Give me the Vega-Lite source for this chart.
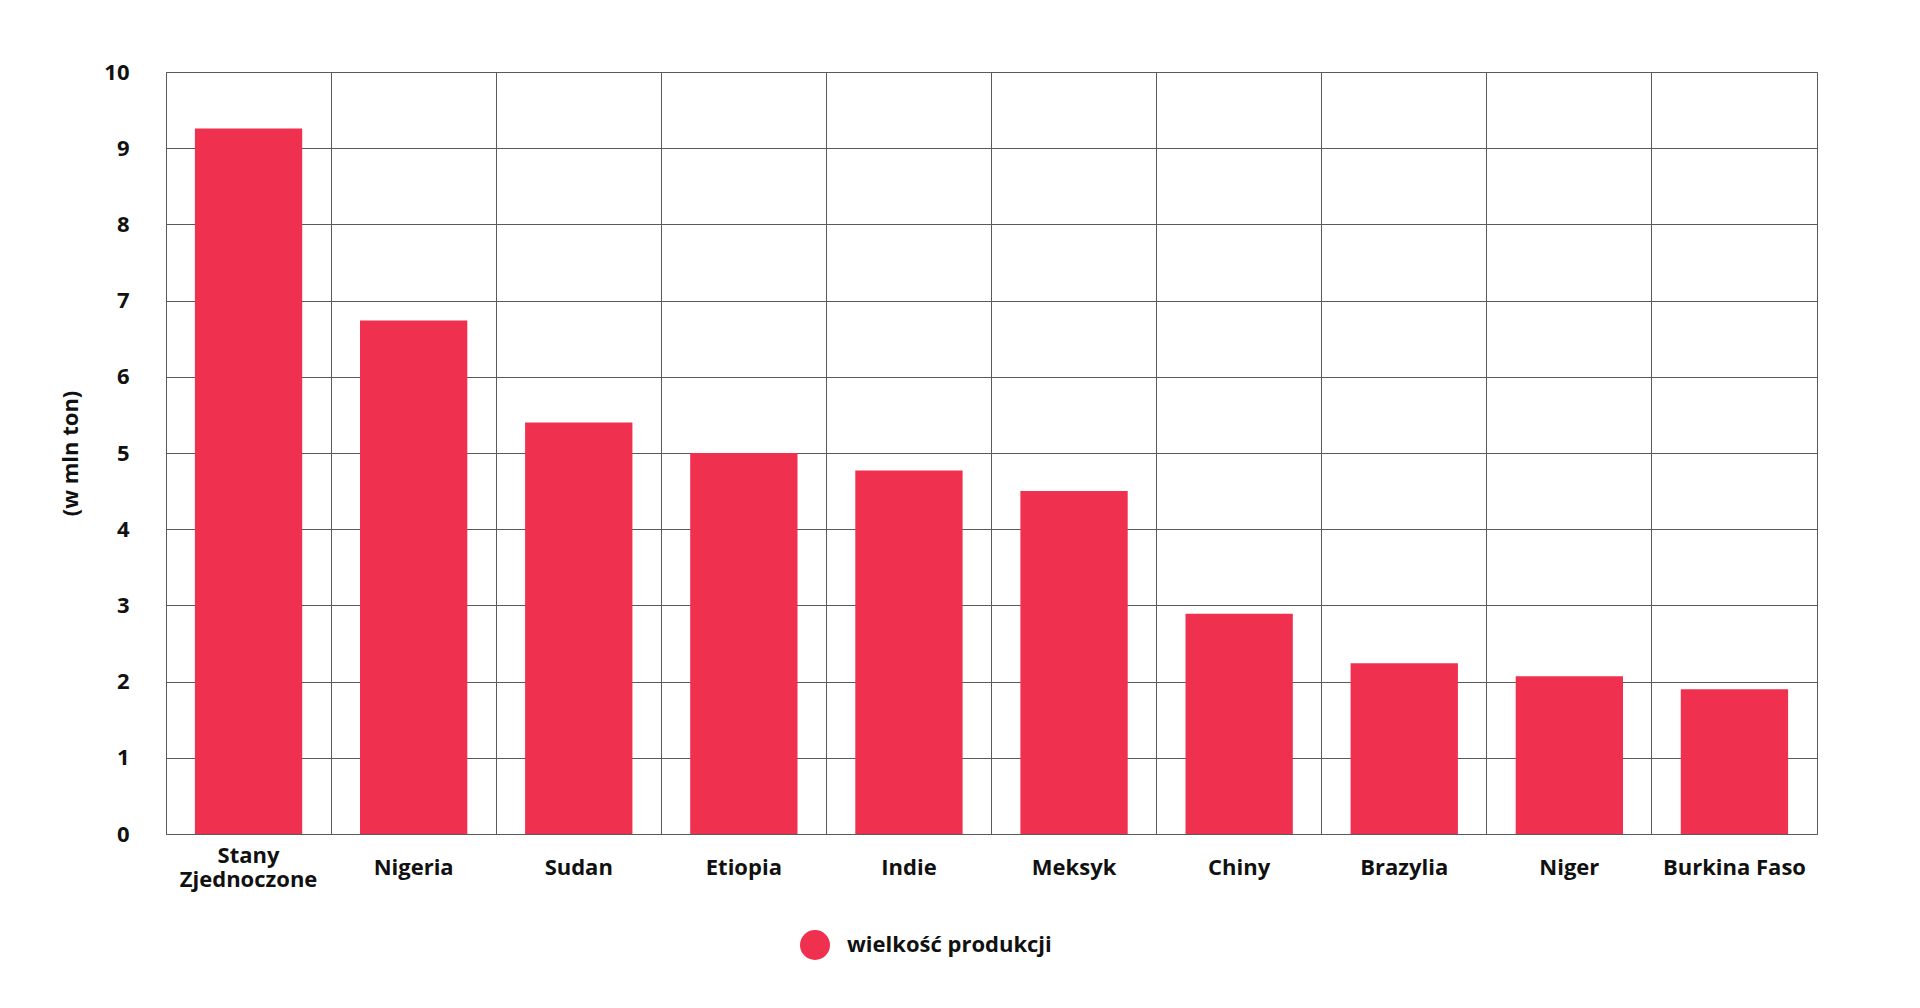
{
  "$schema": "https://vega.github.io/schema/vega-lite/v6.json",
  "width": 1651,
  "height": 762,
  "autosize": {"type": "none"},
  "padding": {"left": 166, "top": 72, "right": 103, "bottom": 174},
  "background": "white",
  "data": {
    "values": [
      {"kraj": "Stany Zjednoczone", "produkcja": 9.26},
      {"kraj": "Nigeria", "produkcja": 6.74},
      {"kraj": "Sudan", "produkcja": 5.4},
      {"kraj": "Etiopia", "produkcja": 5.0},
      {"kraj": "Indie", "produkcja": 4.77},
      {"kraj": "Meksyk", "produkcja": 4.5},
      {"kraj": "Chiny", "produkcja": 2.89},
      {"kraj": "Brazylia", "produkcja": 2.24},
      {"kraj": "Niger", "produkcja": 2.07},
      {"kraj": "Burkina Faso", "produkcja": 1.9}
    ]
  },
  "mark": {"type": "bar"},
  "encoding": {
    "x": {
      "field": "kraj",
      "type": "nominal",
      "sort": null,
      "scale": {"paddingInner": 0.35, "paddingOuter": 0.175},
      "axis": {
        "title": null,
        "labelAngle": 0,
        "grid": true,
        "bandPosition": -0.2692,
        "ticks": false,
        "domain": false,
        "labelPadding": {"expr": "datum.value == 'Stany Zjednoczone' ? 21 : 33"},
        "labelBaseline": "middle",
        "labelLineHeight": 24,
        "labelExpr": "datum.label == 'Stany Zjednoczone' ? ['Stany', 'Zjednoczone'] : datum.label"
      }
    },
    "y": {
      "field": "produkcja",
      "type": "quantitative",
      "scale": {"domain": [0, 10], "nice": false},
      "axis": {
        "title": "(w mln ton)",
        "values": [0, 1, 2, 3, 4, 5, 6, 7, 8, 9, 10],
        "ticks": false,
        "domain": false,
        "labelPadding": 37,
        "titleX": -96,
        "titleY": 381,
        "titleAngle": 270,
        "titleAlign": "center",
        "titleBaseline": "middle"
      }
    },
    "color": {
      "datum": "wielkość produkcji",
      "scale": {"range": ["#F0304F"]},
      "legend": {
        "title": null,
        "orient": "none",
        "legendX": 633,
        "legendY": 857,
        "symbolType": "circle",
        "symbolSize": 900,
        "symbolOpacity": 1,
        "labelOffset": 16,
        "labelLimit": 0,
        "labelFontSize": 22,
        "labelFont": "Open Sans",
        "labelFontWeight": "bold",
        "labelColor": "#111111"
      }
    }
  },
  "config": {
    "view": {"stroke": "#5a5a5a", "strokeWidth": 1},
    "axis": {
      "gridColor": "#5a5a5a",
      "gridOpacity": 1,
      "gridWidth": 1,
      "labelFont": "Open Sans",
      "labelFontWeight": "bold",
      "labelFontSize": 22,
      "labelColor": "#111111",
      "titleFont": "Open Sans",
      "titleFontWeight": "bold",
      "titleFontSize": 22,
      "titleColor": "#111111"
    }
  }
}
